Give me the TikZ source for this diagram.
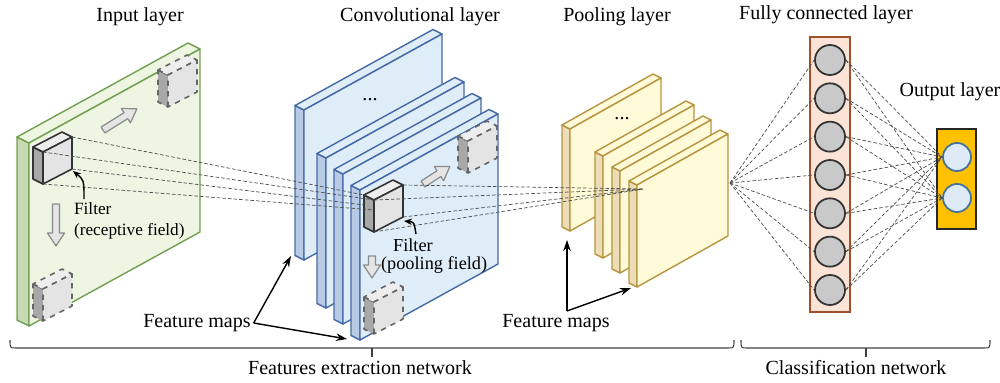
\documentclass[tikz,border=0pt]{standalone}
\usepackage{fontspec}
\setmainfont{Liberation Serif}
\usetikzlibrary{arrows.meta}

\definecolor{inputfront}{HTML}{EEF5E3}
\definecolor{inputside}{HTML}{C6DBB2}
\definecolor{inputline}{HTML}{70A050}
\definecolor{convfront}{HTML}{DEEDF8}
\definecolor{convside}{HTML}{B9CBE4}
\definecolor{convline}{HTML}{4569A8}
\definecolor{poolfront}{HTML}{FFFBD9}
\definecolor{poolside}{HTML}{EBDDB8}
\definecolor{poolline}{HTML}{B89440}
\definecolor{cubefront}{HTML}{E4E4E4}
\definecolor{cubetop}{HTML}{EEEEEE}
\definecolor{cubeside}{HTML}{A8A8A8}
\definecolor{fcfill}{HTML}{FBE3D6}
\definecolor{fcline}{HTML}{A0502A}
\definecolor{neurongray}{HTML}{C9C9C9}
\definecolor{outfill}{HTML}{FFC000}
\definecolor{outneuronfill}{HTML}{DEEBF7}
\definecolor{outneuronline}{HTML}{41719C}

\tikzset{
  in side/.style={fill=inputside,draw=inputline,line width=0.8pt,line join=round},
  in front/.style={fill=inputfront,draw=inputline,line width=0.8pt,line join=round},
  conv side/.style={fill=convside,draw=convline,line width=0.8pt,line join=round},
  conv front/.style={fill=convfront,draw=convline,line width=0.8pt,line join=round},
  pool side/.style={fill=poolside,draw=poolline,line width=0.8pt,line join=round},
  pool front/.style={fill=poolfront,draw=poolline,line width=0.8pt,line join=round},
  cube side/.style={fill=cubeside,draw=black!80,line width=0.9pt,line join=round},
  cube top/.style={fill=cubetop,draw=black!80,line width=0.9pt,line join=round},
  cube front/.style={fill=cubefront,draw=black!80,line width=0.9pt,line join=round},
  hollow/.style={fill=black!10,draw=black!45,line width=0.7pt,line join=round},
  conn/.style={draw=black!70,line width=0.4pt,dash pattern=on 2pt off 1.2pt},
  fm arrow/.style={-{Stealth[length=2.2mm,width=1.5mm]},line width=0.8pt},
  fc neuron/.style={circle,draw=black!80,fill=neurongray,line width=1pt,minimum size=6mm,inner sep=0pt},
  out neuron/.style={circle,draw=outneuronline,fill=outneuronfill,line width=1pt,minimum size=5.6mm,inner sep=0pt},
  small label/.style={anchor=west,inner sep=1pt,font=\fontsize{9.8}{11}\selectfont},
}

% slab: [style prefix](front lower left)(height)(width vector)(depth)
\def\mapslab[#1](#2,#3)(#4)(#5,#6)(#7){%
  \filldraw[#1 side] (#2,#3) -- ++(0,-#4) -- ++(-#7,-#7/2) -- ++(0,#4) -- cycle;
  \filldraw[#1 front] (#2-#7,#3-#4-#7/2) -- (#2,#3-#4) -- ++(#5,#6) -- ++(-#7,-#7/2) -- cycle;
  \filldraw[#1 front] (#2,#3) -- ++(0,-#4) -- ++(#5,#6) -- ++(0,#4) -- cycle;
}
% filter cube: [extra options](front lower left)
\def\filtercube[#1](#2,#3){%
  \filldraw[cube side,#1] (#2,#3) -- ++(0,-32) -- ++(-10,-5) -- ++(0,32) -- cycle;
  \filldraw[cube top,#1] (#2-10,#3-37) -- (#2,#3-32) -- ++(29,-15) -- ++(-10,-5) -- cycle;
  \filldraw[cube front,#1] (#2,#3) -- ++(0,-32) -- ++(29,-15) -- ++(0,32) -- cycle;
}
% hollow arrow: (start)(angle:length)
\def\hollowarrow(#1,#2)(#3:#4){%
  \draw[hollow,shift={(#1,#2)},rotate=#3] (0,-3.5) -- (#4-13,-3.5) -- (#4-13,-8.5) -- (#4,0)
    -- (#4-13,8.5) -- (#4-13,3.5) -- (0,3.5) -- cycle;
}
% flat brace: (left,right)(middle)
\def\flatbrace(#1,#2)(#3){%
  \draw[black!75,line width=0.6pt] (#1,340) .. controls (#1,348) .. (#1+6,348) -- (#2-6,348)
    .. controls (#2,348) .. (#2,340);
  \draw[black!75,line width=0.6pt] (#3,348) -- (#3,357);
}

\begin{document}
\begin{tikzpicture}[x=0.2mm,y=-0.2mm,font=\fontsize{11.4}{13.5}\selectfont]
\useasboundingbox (0,0) rectangle (1000,383);
%%%%% START %%%%%

% input layer
\mapslab[in](29,326)(183)(171,-94)(12)
\filtercube[dashed,draw=black!60](168,107)
\filtercube[dashed,draw=black!60](43,321)
\filtercube[](43,184)
\hollowarrow(103,130)(32:40)
\hollowarrow(56,204)(-90:42)

% convolutional layer
\mapslab[conv](304,260)(150)(138,-76)(9)
\mapslab[conv](326,308)(150)(138,-76)(9)
\mapslab[conv](343,324)(150)(138,-76)(9)
\mapslab[conv](360,340)(150)(138,-76)(9)
\filtercube[dashed,draw=black!60](468,173)
\filtercube[dashed,draw=black!60](374,334)
\filtercube[](374,232)
\hollowarrow(423,184)(33:32)
\hollowarrow(372,256)(-90:22)

% pooling layer
\mapslab[pool](570,231)(102)(91,-51)(8)
\mapslab[pool](603,258)(102)(91,-51)(8)
\mapslab[pool](620,273)(102)(91,-51)(8)
\mapslab[pool](637,287)(102)(91,-51)(8)

% corners of the filters
\coordinate (inTL) at (43,152);
\coordinate (inTR) at (72,137);
\coordinate (inBR) at (72,169);
\coordinate (inBL) at (43,184);
\coordinate (cvBackTL) at (364,195);
\coordinate (cvBackMid) at (364,205);
\coordinate (cvFrontMid) at (374,210);
\coordinate (cvTL) at (374,200);
\coordinate (cvTR) at (403,185);
\coordinate (cvBR) at (403,217);
\coordinate (cvBL) at (374,232);
\coordinate (poolhit) at (643,189);

\draw[conn] (inTR) -- (cvBackTL);
\draw[conn] (inTL) -- (cvTL);
\draw[conn] (inBR) -- (cvBackMid);
\draw[conn] (inBL) -- (cvFrontMid);
\foreach \c in {cvTL,cvTR,cvBR,cvBL}
  \draw[conn] (\c) -- (poolhit);

% fully connected and output
\draw[fill=fcfill,draw=fcline,line width=1pt] (810,37) rectangle (850,312);
\draw[fill=outfill,draw=black!85,line width=1pt] (937,129) rectangle (976,229);
\foreach \i in {1,...,7}
  \node[fc neuron] (fc\i) at (830,{60+38.33*(\i-1)}) {};
\node[out neuron] (out1) at (957,157) {};
\node[out neuron] (out2) at (957,198) {};
\coordinate (fan) at (730,183);
\foreach \i in {1,...,7} {
  \draw[conn] (fan) -- (fc\i.west);
  \draw[conn] (fc\i.east) -- (out1.west);
  \draw[conn] (fc\i.east) -- (out2.west);
}

% titles
\node (inTitle) at (140,17) {Input layer};
\node (convTitle) at (420,17) {Convolutional layer};
\node (poolTitle) at (617,17) {Pooling layer};
\node (fcTitle) at (826,15) {Fully connected layer};
\node (outTitle) at (950,92) {Output layer};
\node (convDots) at (370,100) {...};
\node (poolDots) at (622,119) {...};

% filter labels
\node[small label] (inFilter) at (72,209) {Filter};
\node[small label] (inField) at (72,231) {(receptive field)};
\coordinate (inFilterFoot) at (84,199);
\coordinate (inFilterTip) at (73,171);
\draw[-{Stealth[length=1.6mm,width=1.3mm]},line width=0.8pt] (inFilterFoot) .. controls (84,180) .. (inFilterTip);
\node[small label,font=\fontsize{10.4}{12}\selectfont] (cvFilter) at (391,245) {Filter};
\node[small label,font=\fontsize{10.4}{12}\selectfont] (cvField) at (379,265) {(pooling field)};
\coordinate (cvFilterFoot) at (416,234);
\coordinate (cvFilterTip) at (404,221);
\draw[-{Stealth[length=1.6mm,width=1.3mm]},line width=0.8pt] (cvFilterFoot) .. controls (414,222) .. (cvFilterTip);

% feature maps
\node[inner sep=1.5pt] (fmapL) at (197,323) {Feature maps};
\coordinate (convS1foot) at (291,256);
\coordinate (convS4foot) at (347,339);
\draw[fm arrow] (fmapL.east) -- (convS1foot);
\draw[fm arrow] (fmapL.east) -- (convS4foot);
\node[inner sep=1.5pt] (fmapR) at (556,323) {Feature maps};
\coordinate (fmapRcorner) at (567,311);
\coordinate (poolS1foot) at (567,240);
\coordinate (poolS4foot) at (631,288);
\draw[fm arrow] (fmapRcorner) -- (poolS1foot);
\draw[fm arrow] (fmapRcorner) -- (poolS4foot);

% networks
\flatbrace(10,734)(372)
\flatbrace(741,990)(866)
\node (featNet) at (360,368) {Features extraction network};
\node (classNet) at (856,368) {Classification network};
%%%%% END %%%%%
\end{tikzpicture}
\end{document}
